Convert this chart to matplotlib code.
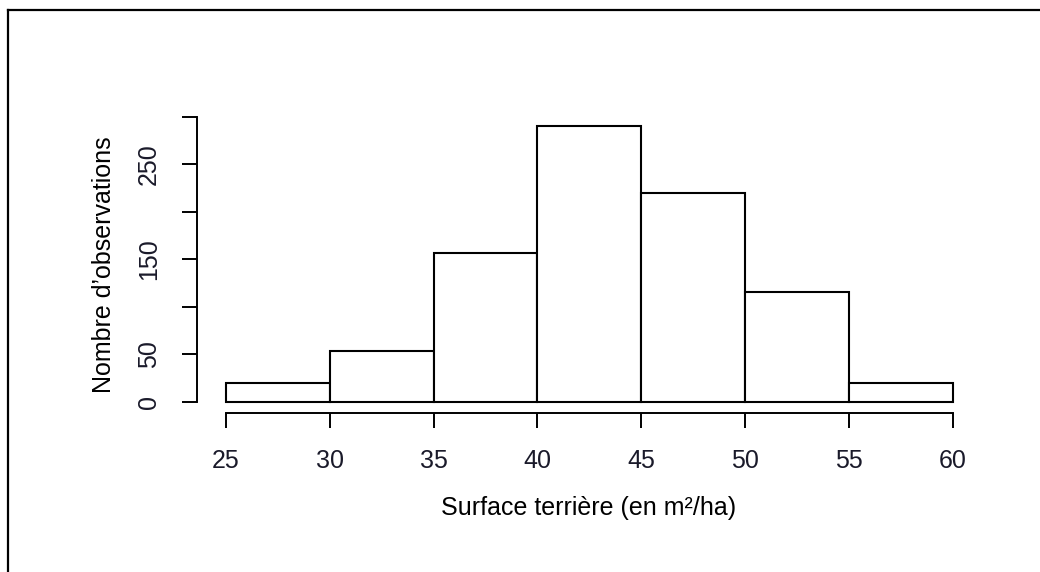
import matplotlib
matplotlib.use("Agg")
import matplotlib.pyplot as plt
from matplotlib.lines import Line2D

plt.rcParams['font.family'] = ['Liberation Sans', 'DejaVu Sans']

bin_edges = [25, 30, 35, 40, 45, 50, 55, 60]
counts = [20, 53, 157, 291, 220, 116, 20]
x_ticks = [25, 30, 35, 40, 45, 50, 55, 60]
y_ticks = [0, 50, 100, 150, 200, 250, 300]
y_tick_labels = ['0', '50', '', '150', '', '250', '']
xlabel = "Surface terrière (en m²/ha)"
ylabel = "Nombre d’observations"

W, H = 1040, 572
fig = plt.figure(figsize=(W / 100, H / 100), dpi=100)
ax = fig.add_axes([197 / W, 1 - 413 / H, (981.7 - 197) / W, (413 - 105.6) / H])

widths = [bin_edges[i + 1] - bin_edges[i] for i in range(len(counts))]
ax.bar(bin_edges[:-1], counts, width=widths, align='edge', bottom=0,
       facecolor='white', edgecolor='black', linewidth=1.5)

ax.set_xlim(23.6, 61.4)
ax.set_ylim(-12, 312)
for s in ['top', 'right']:
    ax.spines[s].set_visible(False)
ax.spines['left'].set_bounds(0, 300)
ax.spines['bottom'].set_bounds(25, 60)
for s in ['left', 'bottom']:
    ax.spines[s].set_linewidth(1.4)

ax.set_xticks(x_ticks)
ax.set_xticklabels([str(v) for v in x_ticks], fontsize=18, color='#1a1a2a')
ax.set_yticks(y_ticks)
ax.set_yticklabels(y_tick_labels, fontsize=18, rotation=90, va='center', color='#1a1a2a')
ax.tick_params(axis='both', length=11, width=1.4, pad=15)

fig.text(589 / W, 1 - 515 / H, xlabel, ha='center', va='baseline', fontsize=18)
fig.text(104 / W, 1 - 265 / H, ylabel, ha='center', va='center', rotation=90, fontsize=18)

# outer frame (left and top edges)
fig.add_artist(Line2D([8 / W, 8 / W], [0, 1 - 10 / H], transform=fig.transFigure,
                      color='black', linewidth=1.6))
fig.add_artist(Line2D([8 / W, 1], [1 - 10 / H, 1 - 10 / H], transform=fig.transFigure,
                      color='black', linewidth=1.6))

fig.savefig('out.png', dpi=100)
